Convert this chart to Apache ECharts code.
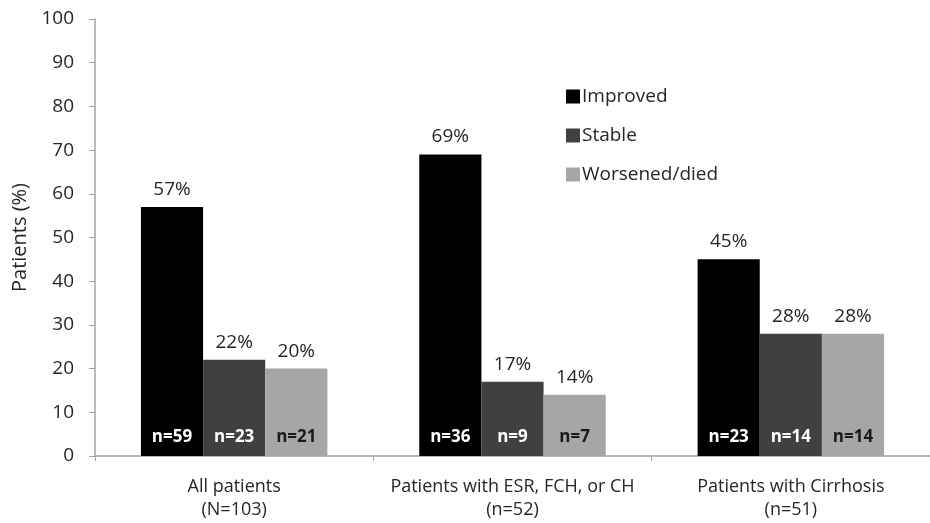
<!DOCTYPE html>
<html>
<head>
<meta charset="utf-8">
<script src="https://cdn.jsdelivr.net/npm/echarts@6/dist/echarts.min.js"></script>
<style>
  html, body { margin: 0; padding: 0; background: #fff; }
  #chart { width: 930px; height: 523px; }
</style>
</head>
<body>
<div id="chart"></div>
<script>
// Patient outcome groups (x axis)
const groupNames = ['All patients', 'Patients with ESR, FCH, or CH', 'Patients with Cirrhosis'];
const groupCounts = ['(N=103)', '(n=52)', '(n=51)'];

// Share of patients per outcome (%)
const improvedPct = [57, 69, 45];
const stablePct = [22, 17, 28];
const worsenedPct = [20, 14, 28];

// Number of patients per outcome
const improvedN = [59, 36, 23];
const stableN = [23, 9, 14];
const worsenedN = [21, 7, 14];

const yTicks = { min: 0, max: 100, interval: 10 };

const FONT = '"Open Sans", "Noto Sans", sans-serif';
const TEXT = '#262626';

const outcomes = [
  { name: 'Improved', pct: improvedPct, n: improvedN, color: '#000000', nColor: '#ffffff' },
  { name: 'Stable', pct: stablePct, n: stableN, color: '#404040', nColor: '#ffffff' },
  { name: 'Worsened/died', pct: worsenedPct, n: worsenedN, color: '#a6a6a6', nColor: '#1a1a1a' }
];

const series = [];
outcomes.forEach((o, k) => {
  // Coloured bar with the patient count at its base
  series.push({
    name: o.name,
    type: 'bar',
    stack: 's' + k,
    data: o.pct,
    itemStyle: { color: o.color },
    label: {
      show: true,
      position: 'insideBottom',
      distance: 10,
      formatter: p => 'n=' + o.n[p.dataIndex],
      color: o.nColor,
      fontFamily: FONT,
      fontWeight: 'bold',
      fontSize: 17
    }
  });
  // Zero-height cap that carries the percentage above each bar
  series.push({
    type: 'bar',
    stack: 's' + k,
    data: o.pct.map(() => 0),
    itemStyle: { color: 'transparent' },
    silent: true,
    label: {
      show: true,
      position: 'top',
      distance: 8,
      formatter: p => o.pct[p.dataIndex] + '%',
      color: TEXT,
      fontFamily: FONT,
      fontSize: 19
    }
  });
});

const chart = echarts.init(document.getElementById('chart'), null, { renderer: 'canvas' });
chart.setOption({
  animation: false,
  backgroundColor: '#ffffff',
  grid: { left: 95, top: 19, width: 843, height: 437, containLabel: false },
  legend: {
    data: outcomes.map(o => o.name),
    orient: 'vertical',
    left: 561,
    top: 82,
    icon: 'rect',
    itemWidth: 14,
    itemHeight: 14,
    itemGap: 20,
    textStyle: { fontFamily: FONT, fontSize: 19, color: TEXT, padding: [0, 0, 0, -3] }
  },
  xAxis: {
    type: 'category',
    data: groupNames.map((g, i) => g + '\n' + groupCounts[i]),
    axisLine: { lineStyle: { color: '#a0a0a0', width: 1.5 } },
    axisTick: { show: true, length: 5, lineStyle: { color: '#a0a0a0' } },
    axisLabel: {
      interval: 0,
      margin: 19,
      color: TEXT,
      fontFamily: FONT,
      fontSize: 18,
      lineHeight: 23
    }
  },
  yAxis: {
    type: 'value',
    min: yTicks.min,
    max: yTicks.max,
    interval: yTicks.interval,
    name: 'Patients (%)',
    nameLocation: 'middle',
    nameGap: 62,
    nameRotate: 90,
    nameTextStyle: { fontFamily: FONT, fontSize: 20, color: TEXT },
    axisLine: { show: true, lineStyle: { color: '#a0a0a0', width: 1.5 } },
    axisTick: { show: true, length: 6, lineStyle: { color: '#a0a0a0' } },
    splitLine: { show: false },
    axisLabel: { margin: 21, color: TEXT, fontFamily: FONT, fontSize: 19 }
  },
  barGap: '0%',
  barCategoryGap: '33%',
  series: series
});
</script>
</body>
</html>
